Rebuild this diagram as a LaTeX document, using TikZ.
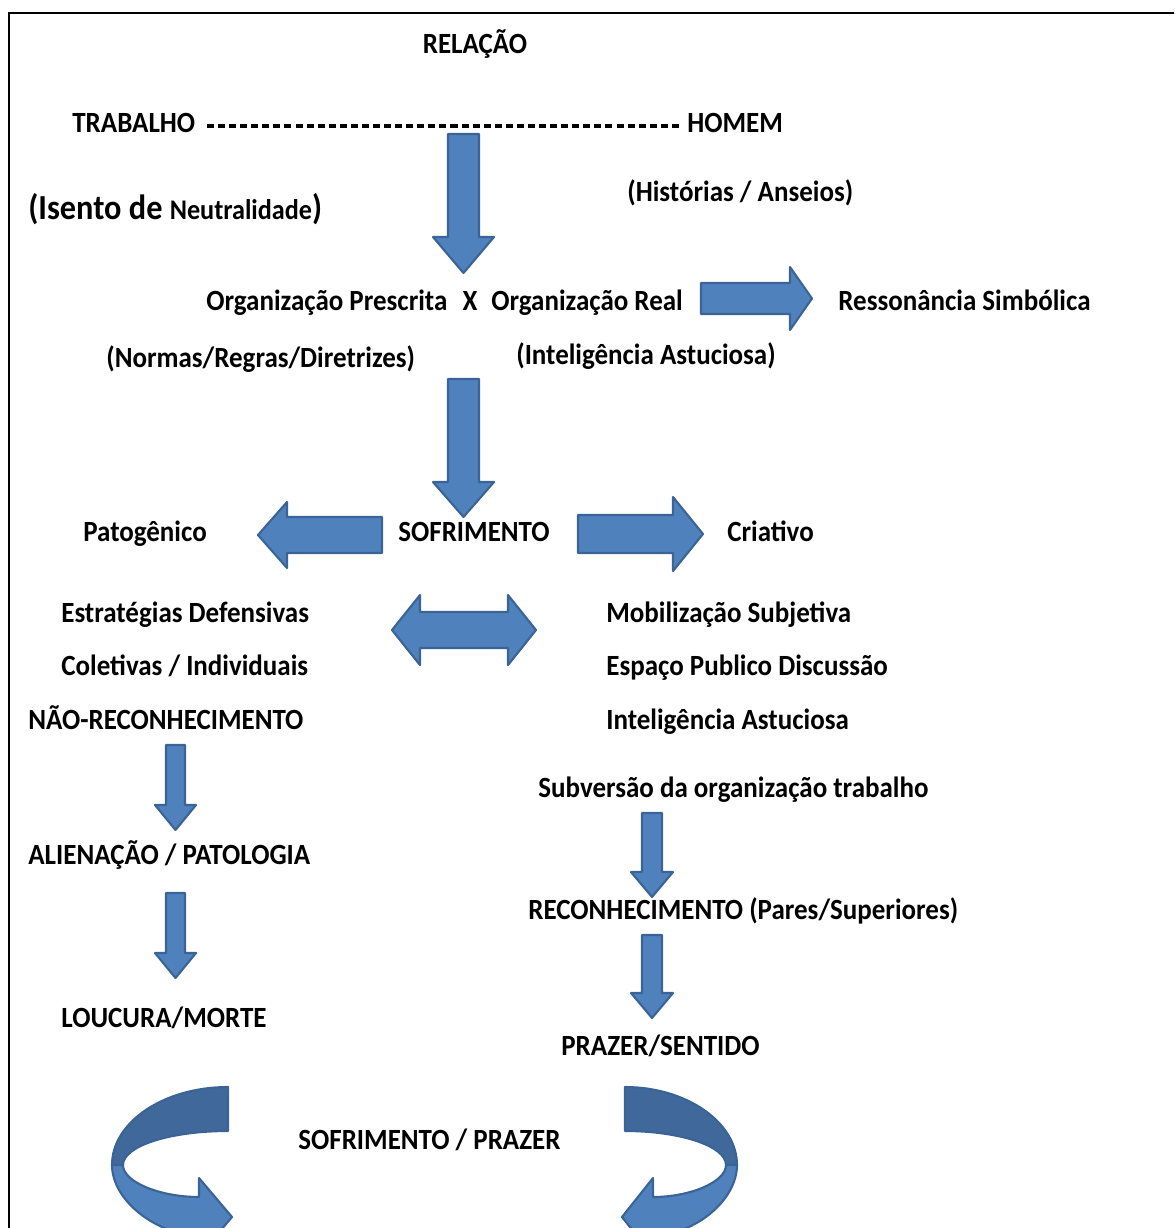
\documentclass[tikz,border=0pt]{standalone}
\usepackage{fontspec}
\setmainfont{Carlito}[FakeStretch=0.92]
\usetikzlibrary{positioning}
\usepackage{xcolor}
\definecolor{arrowcol}{HTML}{4F81BD}
\definecolor{arrowlinecol}{HTML}{3A6496}
\definecolor{backbandcol}{HTML}{40689A}

\begin{document}
\begin{tikzpicture}[x=0.02cm, y=-0.02cm,
  lbl/.style={inner sep=0pt, anchor=base west, font=\fontsize{16.7}{20}\selectfont\bfseries},
  clbl/.style={lbl, anchor=base},
  blockarrow/.style={fill=arrowcol, draw=arrowlinecol, line width=1.2pt, line join=round},
  backband/.style={blockarrow, fill=backbandcol},
  dashline/.style={line width=2.1pt, dash pattern=on 4pt off 2.3pt}]
\useasboundingbox (0,0) rectangle (1174,1228);
\clip (0,0) rectangle (1174,1228);

% Frame
\draw[line width=1.5pt] (9,13) rectangle (1260,1300);

% Top
\node[clbl] (relacao) at (475,53) {RELAÇÃO};
\node[lbl] (trabalho) at (72,132) {TRABALHO};
\node[lbl] (homem) at (687,132) {HOMEM};
\draw[dashline, shorten <=6.5pt, shorten >=3.5pt] ([yshift=-2pt]trabalho.east) -- ([yshift=-2pt]homem.west);
\node[lbl] (isento) at (28,219) {{\fontsize{20}{23}\selectfont(Isento de }{\fontsize{16.2}{19}\selectfont Neutralidade}{\fontsize{20}{23}\selectfont)}};
\node[lbl] (historias) at (627,201) {(Histórias / Anseios)};

% Organizacao
\node[lbl] (prescrita) at (206,310) {Organização Prescrita};
\node[clbl] (versus) at (470,310) {X};
\node[lbl] (real) at (491,310) {Organização Real};
\node[lbl] (ressonancia) at (838,310) {Ressonância Simbólica};
\node[lbl] (normas) at (106,367) {(Normas/Regras/Diretrizes)};
\node[lbl] (astuciosaA) at (516,364) {(Inteligência Astuciosa)};

% Sofrimento
\node[lbl] (sofrimento) at (398,541) {SOFRIMENTO};
\node[lbl] (patogenico) at (83,541) {Patogênico};
\node[lbl] (criativo) at (727,541) {Criativo};

% Left column
\node[lbl] (estrategias) at (61,622) {Estratégias Defensivas};
\node[lbl] (coletivas) at (61,675) {Coletivas / Individuais};
\node[lbl] (naoreconh) at (28,729) {NÃO-RECONHECIMENTO};
\node[lbl] (alienacao) at (28,864) {ALIENAÇÃO / PATOLOGIA};
\node[lbl] (loucura) at (61,1027) {LOUCURA/MORTE};

% Right column
\node[lbl] (mobilizacao) at (606,622) {Mobilização Subjetiva};
\node[lbl] (espaco) at (606,675) {Espaço Publico Discussão};
\node[lbl] (astuciosaB) at (606,729) {Inteligência Astuciosa};
\node[lbl] (subversao) at (538,797) {Subversão da organização trabalho};
\node[lbl] (reconh) at (528,919) {RECONHECIMENTO (Pares/Superiores)};
\node[lbl] (prazer) at (561,1055) {PRAZER/SENTIDO};

\node[lbl] (ciclo) at (298,1149) {SOFRIMENTO / PRAZER};

% Block arrows
\draw[blockarrow] (448,134) -- (479,134) -- (479,237) -- (494,237) -- (463.5,273) -- (433,237) -- (448,237) -- cycle;
\draw[blockarrow] (448,379) -- (479,379) -- (479,482) -- (494,482) -- (463.5,517) -- (433,482) -- (448,482) -- cycle;
\draw[blockarrow] (701,283) -- (790,283) -- (790,267) -- (812,298.5) -- (790,330) -- (790,314) -- (701,314) -- cycle;
\draw[blockarrow] (382,517) -- (287,517) -- (287,502) -- (258,535) -- (287,568) -- (287,553) -- (382,553) -- cycle;
\draw[blockarrow] (578,515) -- (673,515) -- (673,497) -- (703,534) -- (673,571) -- (673,553) -- (578,553) -- cycle;
\draw[blockarrow] (392,630) -- (420,595) -- (420,612) -- (508,612) -- (508,595) -- (536,630) -- (508,665) -- (508,648) -- (420,648) -- (420,665) -- cycle;

% Small down arrows
\draw[blockarrow] (166,745) -- (185,745) -- (185,805) -- (196,805) -- (175.5,830) -- (155,805) -- (166,805) -- cycle;
\draw[blockarrow] (166,893) -- (185,893) -- (185,953) -- (196,953) -- (175.5,978) -- (155,953) -- (166,953) -- cycle;
\draw[blockarrow] (642,813) -- (662,813) -- (662,872) -- (673,872) -- (652,897) -- (631,872) -- (642,872) -- cycle;
\draw[blockarrow] (642,935) -- (662,935) -- (662,993) -- (673,993) -- (652,1018) -- (631,993) -- (642,993) -- cycle;

% Curved arrows
\draw[backband] (228,1087) .. controls (164,1087) and (112,1122) .. (112,1165)
  -- (123,1165) .. controls (123,1146) and (170,1131) .. (228,1131) -- cycle;
\draw[blockarrow] (112,1165) .. controls (112,1200) and (155,1234) .. (199,1236)
  -- (199,1256) -- (232,1217) -- (199,1178) -- (199,1197)
  .. controls (160,1197) and (123,1182) .. (123,1165) -- cycle;

\draw[backband] (625,1087) .. controls (686,1087) and (737,1122) .. (737,1165)
  -- (726,1165) .. controls (726,1146) and (680,1131) .. (625,1131) -- cycle;
\draw[blockarrow] (737,1165) .. controls (737,1200) and (696,1234) .. (653,1236)
  -- (653,1256) -- (622,1217) -- (653,1178) -- (653,1197)
  .. controls (690,1197) and (726,1182) .. (726,1165) -- cycle;
\end{tikzpicture}
\end{document}
